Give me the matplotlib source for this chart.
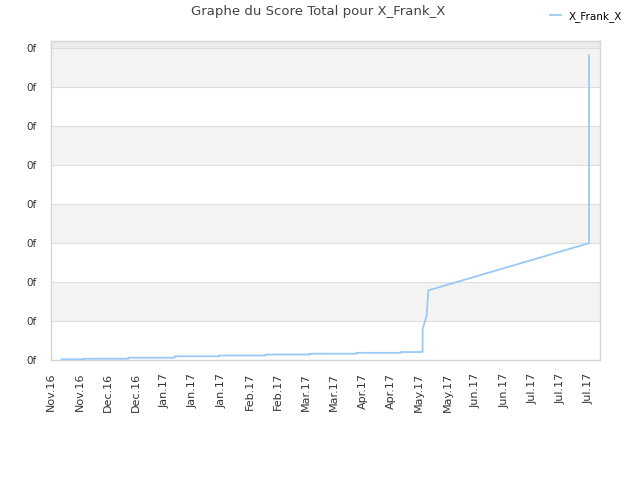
import datetime as dt
import matplotlib
matplotlib.use('Agg')
import matplotlib.pyplot as plt
import matplotlib.dates as mdates

# step points of the score curve (dates, score in tick units)
dates = [
    '2016-11-11', '2016-11-22', '2016-11-22', '2016-12-14', '2016-12-14',
    '2017-01-06', '2017-01-06', '2017-01-28', '2017-01-28', '2017-02-20',
    '2017-02-20', '2017-03-14', '2017-03-14', '2017-04-06', '2017-04-06',
    '2017-04-28', '2017-04-28', '2017-05-08 16:00', '2017-05-08 16:00',
    '2017-05-10 16:00', '2017-05-11 12:00', '2017-07-30', '2017-07-30',
]
scores = [
    0.026, 0.026, 0.04, 0.04, 0.066,
    0.066, 0.102, 0.102, 0.123, 0.123,
    0.148, 0.148, 0.169, 0.169, 0.192,
    0.192, 0.212, 0.212, 0.79,
    1.15, 1.79, 3.0, 7.81,
]
series_name = 'X_Frank_X'
title = 'Graphe du Score Total pour X_Frank_X'
y_ticks = list(range(9))
y_tick_labels = ['0f'] * 9

x = [dt.datetime.fromisoformat(d) for d in dates]

fig = plt.figure(figsize=(6.4, 4.8), dpi=100)
ax = fig.add_axes([50.7 / 640, 119.7 / 480, 549.6 / 640, 319.4 / 480])

# alternating background bands
for lo in range(1, 8, 2):
    ax.axhspan(lo, lo + 1, color='#f3f3f3', lw=0, zorder=0)
ax.axhspan(8, 8.18, color='#ebebeb', lw=0, zorder=0)
for yv in range(1, 9):
    ax.axhline(yv, color='#dedede', lw=0.8, zorder=1)

ax.plot(x, scores, color='#99c9f5', lw=1.3, label=series_name, zorder=3)

ax.set_ylim(0, 8.18)
ax.set_yticks(y_ticks)
ax.set_yticklabels(y_tick_labels)
ax.set_xlim(dt.datetime(2016, 11, 5, 16), dt.datetime(2017, 8, 4, 14))
ticks = [dt.datetime(2016, 11, 6) + dt.timedelta(days=14 * i) for i in range(20)]
ax.set_xticks(ticks)
ax.xaxis.set_major_formatter(mdates.DateFormatter('%b.%y'))
ax.tick_params(axis='x', rotation=90, labelsize=8, colors='#333333', length=0, pad=9)
ax.tick_params(axis='y', labelsize=7.5, colors='#333333', length=0, pad=10)

for s in ax.spines.values():
    s.set_color('#d6d6d6')
    s.set_linewidth(1)

fig.text(318 / 640, 1 - 12 / 480, title, ha='center', va='center',
         fontsize=9.5, color='#444444')
fig.legend(loc='upper right', bbox_to_anchor=(0.987, 0.997), frameon=False,
           fontsize=7.5, handlelength=1.0, handletextpad=0.8)

fig.savefig('out.png', dpi=100)
